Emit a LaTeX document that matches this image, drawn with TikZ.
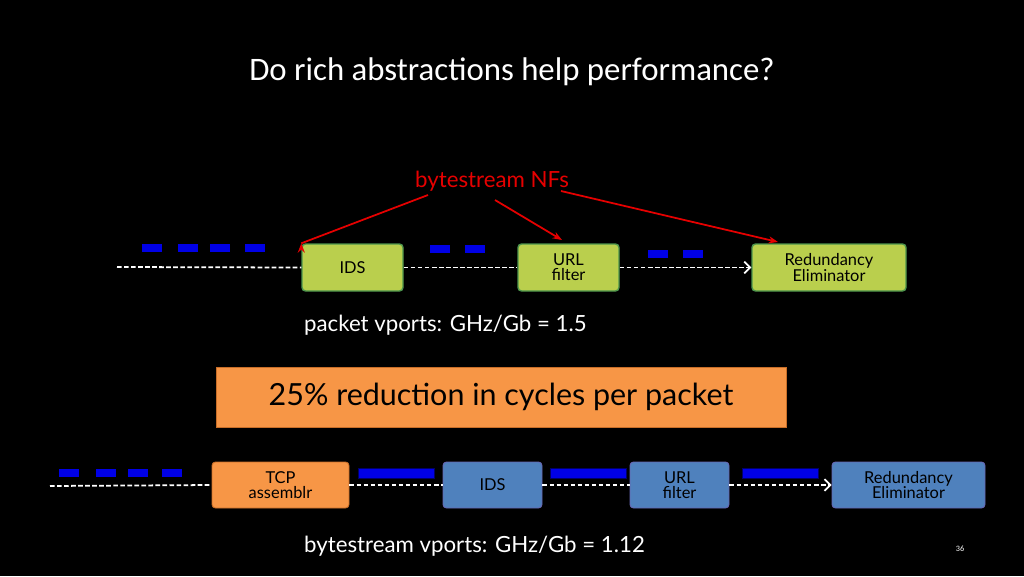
\documentclass[tikz,border=0pt]{standalone}
\usepackage{fontspec}
\setmainfont{Carlito}
\newfontfamily\gill{Lato}
\usetikzlibrary{arrows.meta}
\begin{document}
\begin{tikzpicture}[x=0.03cm,y=-0.03cm,
  gbox/.style={draw=green!40!black!70, line width=1.2pt, fill=olive!55!green!60!yellow!70!white, rounded corners=3pt, align=center, font=\gill\fontsize{14pt}{13pt}\selectfont, inner sep=1pt, text=black},
  bbox/.style={draw=blue!50!black!60, line width=0.8pt, fill={rgb,255:red,79;green,129;blue,189}, rounded corners=3pt, align=center, font=\gill\fontsize{14pt}{13pt}\selectfont, inner sep=1pt, text=black},
  obox/.style={bbox, fill={rgb,255:red,247;green,150;blue,70}, draw={rgb,255:red,200;green,110;blue,40}},
  flow/.style={white, dashed, line width=1.5pt, dash pattern=on 4pt off 2pt},
  pkt/.style={fill={rgb,255:red,0;green,0;blue,230}},
  red/.style={draw={rgb,255:red,230;green,0;blue,0}, line width=1.5pt, -{Stealth[length=8pt]}}]
\fill[black] (0,0) rectangle (1024,576);
\node[white, font=\fontsize{28pt}{32pt}\selectfont] (title) at (512,72) {Do rich abstractions help performance?};
% top row
\node[gbox, minimum width=101*0.03cm, minimum height=47*0.03cm] (ids1) at (352.5,267.5) {IDS};
\node[gbox, minimum width=101*0.03cm, minimum height=47*0.03cm] (url1) at (568.5,267.5) {URL\\filter};
\node[gbox, minimum width=154*0.03cm, minimum height=47*0.03cm] (re1) at (829,267.5) {Redundancy\\Eliminator};
\coordinate (s1) at (117,267);
\draw[flow] (s1) -- (ids1.west);
\draw[flow] (ids1.east) -- (url1.west);
\draw[flow, -{Straight Barb[length=5pt]}] (url1.east) -- (re1.west);
\foreach \a in {142,178,210,245} \fill[pkt] (\a,244) rectangle (\a+20,252);
\foreach \a in {430,465} \fill[pkt] (\a,245) rectangle (\a+20,253);
\foreach \a in {648,683} \fill[pkt] (\a,250) rectangle (\a+20,258);
\node[text={rgb,255:red,230;green,0;blue,0}, font=\gill\fontsize{19pt}{20pt}\selectfont] (nfs) at (492,181) {bytestream NFs};
\draw[red] (428,195) -- (ids1.north west) ++(0,0);
\draw[red] (495,200) -- (562,240);
\draw[red] (nfs.east) ++(-12,10) -- (778,242);
\node[white, anchor=west, font=\gill\fontsize{19pt}{20pt}\selectfont] (pv) at (300,325) {packet vports: GHz/Gb = 1.5};
\node[obox, draw={rgb,255:red,200;green,110;blue,40}, rounded corners=0pt, minimum width=570*0.03cm, minimum height=60*0.03cm, font=\gill\fontsize{26pt}{28pt}\selectfont] (red) at (501,397) {25\% reduction in cycles per packet};
% bottom row
\node[obox, minimum width=137*0.03cm, minimum height=46*0.03cm] (tcp) at (280.5,485) {TCP\\assemblr};
\node[bbox, minimum width=99*0.03cm, minimum height=46*0.03cm] (ids2) at (492.5,485) {IDS};
\node[bbox, minimum width=99*0.03cm, minimum height=46*0.03cm] (url2) at (679.5,485) {URL\\filter};
\node[bbox, minimum width=153*0.03cm, minimum height=46*0.03cm] (re2) at (908.5,485) {Redundancy\\Eliminator};
\coordinate (s2) at (50,486);
\draw[flow] (s2) -- (tcp.west);
\draw[flow] (tcp.east) -- (ids2.west);
\draw[flow] (ids2.east) -- (url2.west);
\draw[flow, -{Straight Barb[length=5pt]}] (url2.east) -- (re2.west);
\foreach \a in {59,96,128,162} \fill[pkt] (\a,469) rectangle (\a+20,477);
\foreach \a in {358,550,742} \filldraw[pkt, draw=blue!40!black] (\a,468) rectangle (\a+76,478);
\node[white, anchor=west, font=\gill\fontsize{19pt}{20pt}\selectfont] (bv) at (300,546) {bytestream vports: GHz/Gb = 1.12};
\node[white, font=\fontsize{7pt}{8pt}\selectfont] (pg) at (960,549) {36};
\end{tikzpicture}
\end{document}
